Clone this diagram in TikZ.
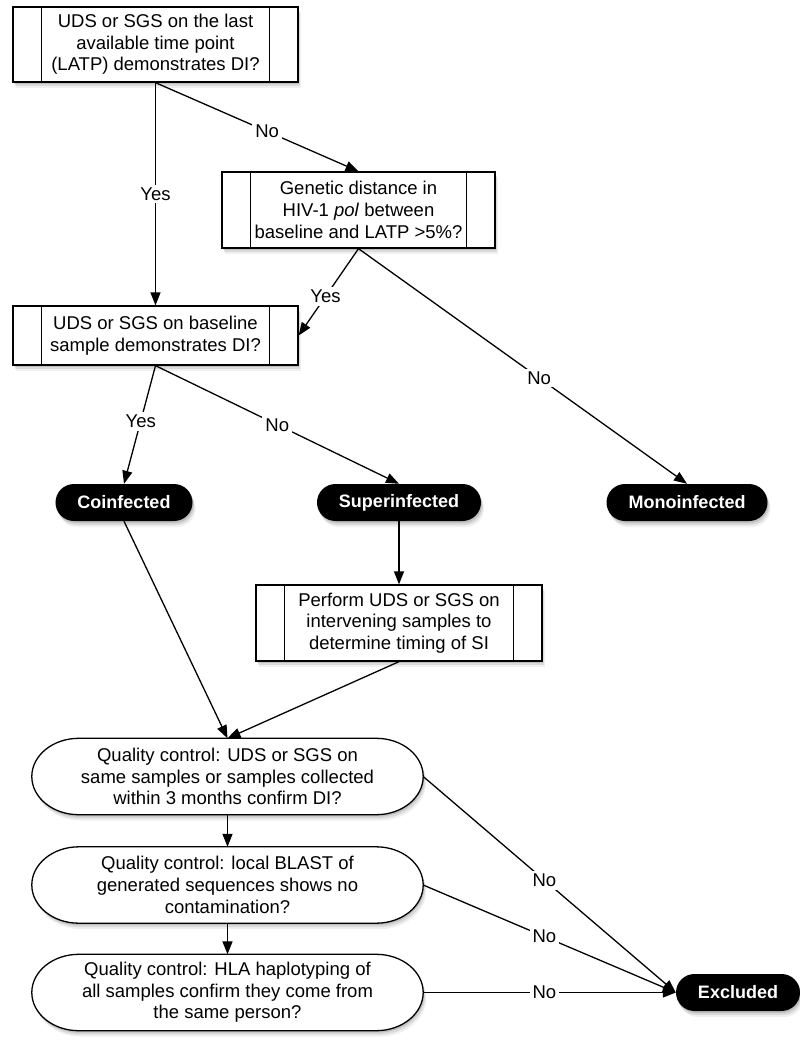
\documentclass[tikz,border=0pt]{standalone}
\usepackage{fontspec}
\setmainfont{Liberation Sans}
\usetikzlibrary{arrows.meta,backgrounds}
\newcommand\qcoutline[1]{%
 \path[shadowed, fill=white, draw=black, line width=1.3pt]
   ([xshift=47pt]#1.north west) -- ([xshift=-47pt]#1.north east)
   .. controls ([xshift=-21pt]#1.north east) and ([yshift=21pt]#1.east) .. (#1.east)
   .. controls ([yshift=-21pt]#1.east) and ([xshift=-21pt]#1.south east) .. ([xshift=-47pt]#1.south east)
   -- ([xshift=47pt]#1.south west)
   .. controls ([xshift=21pt]#1.south west) and ([yshift=-21pt]#1.west) .. (#1.west)
   .. controls ([yshift=21pt]#1.west) and ([xshift=21pt]#1.north west) .. cycle;}
\begin{document}
\begin{tikzpicture}[x=1pt,y=-1pt,
  shadowed/.style={
    preaction={fill=black,opacity=0.12,transform canvas={xshift=1pt,yshift=-2pt}},
    preaction={fill=black,opacity=0.09,transform canvas={xshift=2pt,yshift=-4pt}},
    preaction={fill=black,opacity=0.06,transform canvas={xshift=3pt,yshift=-6pt}}},
  txt/.style={font=\fontsize{18.5}{21.7}\selectfont, align=center},
  proc/.style={txt, shadowed, draw, fill=white, line width=1.3pt, inner sep=0pt,
     path picture={\draw[line width=1.3pt]
        ([xshift=28.5pt]path picture bounding box.north west) -- ([xshift=28.5pt]path picture bounding box.south west)
        ([xshift=-28.5pt]path picture bounding box.north east) -- ([xshift=-28.5pt]path picture bounding box.south east);}},
  term/.style={shadowed, fill=black, text=white, rounded corners=18.5pt, minimum height=37pt,
     inner xsep=22pt, inner ysep=0pt, font=\fontsize{18}{20}\selectfont\bfseries},
  qc/.style={txt, inner sep=0pt, minimum width=391pt, minimum height=76pt},
  lbl/.style={fill=white, font=\fontsize{18.5}{20}\selectfont, inner sep=3pt},
  arr/.style={line width=1.3pt, -{Triangle[length=13pt,width=10pt]}},
]
\useasboundingbox (0,0) rectangle (800,1049);

\node[proc, minimum width=285pt, minimum height=75pt] (top) at (155.5,44.5)
  {UDS or SGS on the last\\available time point\\(LATP) demonstrates DI?};
\node[proc, minimum width=273pt, minimum height=76pt] (gen) at (358.5,210)
  {Genetic distance in\\HIV-1 \textit{pol} between\\baseline and LATP >5\%?};
\node[proc, minimum width=285pt, minimum height=59pt] (base) at (155.5,335.5)
  {UDS or SGS on baseline\\sample demonstrates DI?};
\node[term] (co) at (124,502.5) {Coinfected};
\node[term] (su) at (399,502.5) {Superinfected};
\node[term] (mo) at (687,502.5) {Monoinfected};
\node[proc, minimum width=286pt, minimum height=76pt] (perf) at (399,623)
  {Perform UDS or SGS on\\intervening samples to\\determine timing of SI};
\node[qc] (q1) at (227.5,776.5)
  {Quality control: UDS or SGS on\\same samples or samples collected\\within 3 months confirm DI?};
\node[qc] (q2) at (227.5,885)
  {Quality control: local BLAST of\\generated sequences shows no\\contamination?};
\node[qc] (q3) at (227.5,992.5)
  {Quality control: HLA haplotyping of\\all samples confirm they come from\\the same person?};
\node[term] (ex) at (738,992.5) {Excluded};

\begin{pgfonlayer}{background}
\qcoutline{q1}
\qcoutline{q2}
\qcoutline{q3}
\end{pgfonlayer}

\draw[arr] (top.south) -- node[lbl]{Yes} (base.north);
\draw[arr] (top.south) -- node[lbl,pos=0.55]{No} (gen.north);
\draw[arr] (gen.south) -- node[lbl,pos=0.55]{Yes} (base.east);
\draw[arr] (gen.south) -- node[lbl,pos=0.55]{No} (mo.north);
\draw[arr] (base.south) -- node[lbl,pos=0.47]{Yes} (co.north);
\draw[arr] (base.south) -- node[lbl]{No} (su.north);
\draw[arr] (su.south) -- (perf.north);
\draw[arr] (co.south) -- (q1.north);
\draw[arr] (perf.south) -- (q1.north);
\draw[arr] (q1.south) -- (q2.north);
\draw[arr] (q2.south) -- (q3.north);
\draw[arr] (q1.east) -- node[lbl,pos=0.48]{No} (ex.west);
\draw[arr] (q2.east) -- node[lbl,pos=0.48]{No} (ex.west);
\draw[arr] (q3.east) -- node[lbl,pos=0.48]{No} (ex.west);
\end{tikzpicture}
\end{document}
